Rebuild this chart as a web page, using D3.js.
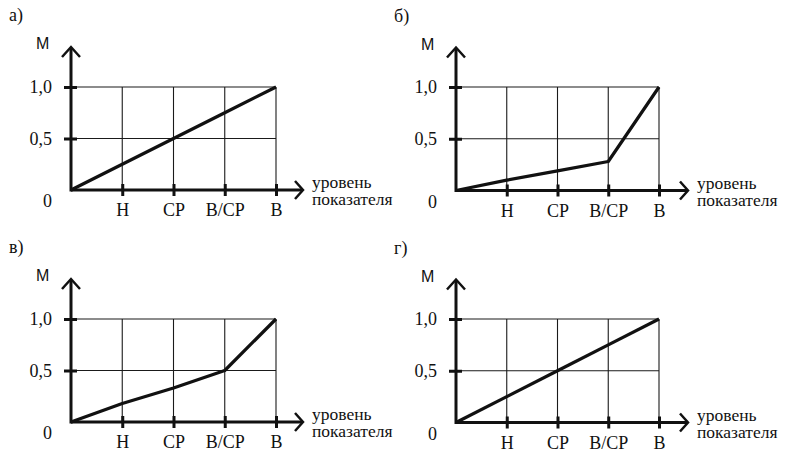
<!DOCTYPE html>
<html><head><meta charset="utf-8">
<script src="https://cdn.jsdelivr.net/npm/d3@7"></script>
</head><body style="margin:0">
<svg id="chart" width="785" height="452" style="display:block"></svg>
<script>
// ---- data ----
const panelLetters = ["а)", "б)", "в)", "г)"];
const xLabels = ["", "Н", "СР", "В/СР", "В"];
const yTickValues = [0.5, 1.0];
const yTickLabels = ["0,5", "1,0"];
const seriesA = [0, 0.25, 0.5, 0.75, 1.0];
const seriesB = [0, 0.10, 0.19, 0.28, 1.0];
const seriesV = [0, 0.18, 0.33, 0.50, 1.0];
const seriesG = [0, 0.25, 0.5, 0.75, 1.0];
const yAxisTitle = "М";
const xAxisTitle = ["уровень", "показателя"];

// ---- layout ----
const panels = [
  { ox: 71,  oy: 190, w: 205, h: 103, data: seriesA, letter: panelLetters[0] },
  { ox: 456, oy: 190.5, w: 203, h: 103.5, data: seriesB, letter: panelLetters[1] },
  { ox: 71,  oy: 422, w: 205, h: 103, data: seriesV, letter: panelLetters[2] },
  { ox: 456, oy: 422.5, w: 203, h: 103.5, data: seriesG, letter: panelLetters[3] }
];

const svg = d3.select("#chart");
const ink = "#111";
const FONT = "Tinos, 'Times New Roman', 'Liberation Serif', FreeSerif, serif";

function serifText(sel, size) {
  return sel.attr("font-family", FONT).attr("font-size", size).attr("fill", ink);
}

panels.forEach(p => {
  const g = svg.append("g");
  const x = d3.scaleLinear().domain([0, 4]).range([p.ox, p.ox + p.w]);
  const y = d3.scaleLinear().domain([0, 1]).range([p.oy, p.oy - p.h]);
  const idx = d3.range(1, 5);

  // grid
  g.append("g").selectAll("line").data(yTickValues).join("line")
    .attr("x1", x(0)).attr("x2", x(4))
    .attr("y1", d => y(d)).attr("y2", d => y(d))
    .attr("stroke", "#1a1a1a").attr("stroke-width", 1.1);
  g.append("g").selectAll("line").data(idx).join("line")
    .attr("x1", d => x(d)).attr("x2", d => x(d))
    .attr("y1", y(0)).attr("y2", y(1))
    .attr("stroke", "#1a1a1a").attr("stroke-width", 1.1);

  // x axis via d3.axisBottom
  const xAxis = d3.axisBottom(x).tickValues(idx).tickFormat(i => xLabels[i]).tickSize(6);
  const xg = g.append("g").attr("transform", `translate(0,${p.oy})`).call(xAxis);
  xg.attr("font-family", FONT).attr("font-size", 18);
  xg.select(".domain").remove();
  xg.selectAll(".tick line").attr("y1", -6).attr("y2", 6)
    .attr("stroke", ink).attr("stroke-width", 3);
  serifText(xg.selectAll(".tick text").attr("y", 26).attr("dy", 0), 18);

  // y axis via d3.axisLeft
  const yAxis = d3.axisLeft(y).tickValues(yTickValues)
    .tickFormat((d, i) => yTickLabels[i]).tickSize(7);
  const yg = g.append("g").attr("transform", `translate(${p.ox},0)`).call(yAxis);
  yg.attr("font-family", FONT).attr("font-size", 18);
  yg.select(".domain").remove();
  yg.selectAll(".tick line").attr("x1", -7).attr("x2", 6)
    .attr("stroke", ink).attr("stroke-width", 3);
  serifText(yg.selectAll(".tick text").attr("x", -19).attr("dy", "0.32em"), 18);

  // main axis lines with arrows
  const xEnd = p.ox + 232, yEnd = p.oy - 143;
  g.append("line").attr("x1", p.ox).attr("x2", xEnd - 1).attr("y1", p.oy).attr("y2", p.oy)
    .attr("stroke", ink).attr("stroke-width", 3);
  g.append("line").attr("x1", p.ox).attr("x2", p.ox).attr("y1", p.oy + 1.5).attr("y2", yEnd + 1)
    .attr("stroke", ink).attr("stroke-width", 3);
  g.append("path")
    .attr("d", `M${xEnd - 8},${p.oy - 9}L${xEnd},${p.oy}L${xEnd - 8},${p.oy + 9}`)
    .attr("fill", "none").attr("stroke", ink).attr("stroke-width", 2.5);
  g.append("path")
    .attr("d", `M${p.ox - 9},${yEnd + 10}L${p.ox},${yEnd}L${p.ox + 9},${yEnd + 10}`)
    .attr("fill", "none").attr("stroke", ink).attr("stroke-width", 2.5);

  // data line
  const line = d3.line().x((d, i) => x(i)).y(d => y(d));
  g.append("path").datum(p.data).attr("d", line)
    .attr("fill", "none").attr("stroke", ink).attr("stroke-width", 3.2)
    .attr("stroke-linejoin", "round");

  // texts
  serifText(g.append("text").attr("x", p.ox - 23.5).attr("y", p.oy + 17)
    .attr("text-anchor", "middle"), 18).text("0");
  g.append("text").attr("x", p.ox - 35).attr("y", p.oy - 141)
    .attr("font-family", "'Liberation Sans', Arial, sans-serif").attr("font-size", 16).attr("fill", ink).text(yAxisTitle);
  serifText(g.append("text").attr("x", p.ox - 62).attr("y", p.oy - 169), 18).text(p.letter);
  xAxisTitle.forEach((t, i) => {
    serifText(g.append("text").attr("x", p.ox + 241).attr("y", p.oy - 2 + i * 17), 17.5).text(t);
  });
});
</script></body></html>
